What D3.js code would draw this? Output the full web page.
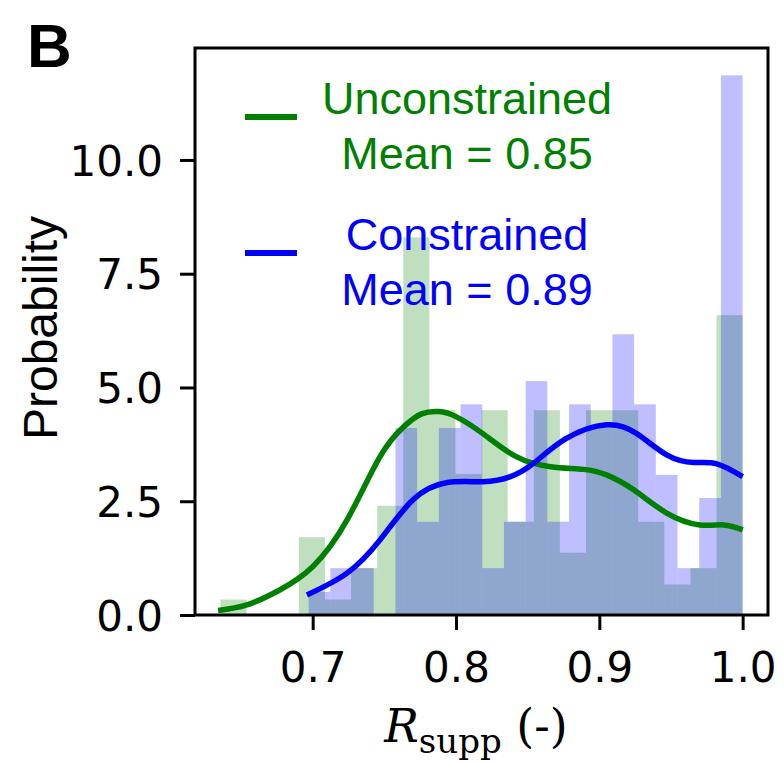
<!DOCTYPE html>
<html>
<head>
<meta charset="utf-8">
<script src="https://cdn.jsdelivr.net/npm/d3@7"></script>
<style>
  body { margin: 0; background: #fff; }
  #chart { width: 784px; height: 763px; }
</style>
</head>
<body>
<div id="chart"></div>
<script>
var margin = {top: 48, right: 16, bottom: 148, left: 195},
    width = 784 - margin.left - margin.right,
    height = 763 - margin.top - margin.bottom;

// histogram bins (density), 20 bins each
var greenRange = [0.6357, 1.0];
var greenDensity = [0.34, 0, 0, 1.71, 0.34, 1.03, 2.40, 8.30, 4.50, 3.10,
                    4.50, 2.05, 4.50, 1.37, 4.50, 4.50, 2.05, 0.67, 1.03, 6.59];
var blueRange = [0.6972, 1.0];
var blueDensity = [0.51, 1.03, 1.03, 0, 4.11, 2.05, 4.11, 4.63, 1.03, 2.05,
                   5.14, 2.05, 4.63, 4.15, 6.17, 4.63, 3.08, 1.03, 2.57, 11.86];

// kde curves
var greenKdeX = [0.634, 0.654, 0.677, 0.700, 0.724, 0.747, 0.764, 0.776, 0.788, 0.800,
                 0.819, 0.842, 0.866, 0.889, 0.905, 0.924, 0.947, 0.970, 0.987, 1.0];
var greenKdeY = [0.10, 0.22, 0.55, 1.06, 2.09, 3.48, 4.15, 4.42, 4.47, 4.36,
                 3.98, 3.48, 3.26, 3.20, 3.08, 2.75, 2.24, 1.98, 1.98, 1.87];
var blueKdeX = [0.696, 0.724, 0.747, 0.770, 0.794, 0.819, 0.838, 0.854, 0.877, 0.905,
                0.926, 0.947, 0.966, 0.982, 1.0];
var blueKdeY = [0.44, 0.92, 1.65, 2.53, 2.91, 2.93, 3.04, 3.33, 3.88, 4.18,
                3.99, 3.52, 3.35, 3.32, 3.04];

var xTicks = [0.7, 0.8, 0.9, 1.0];
var yTicks = [0, 2.5, 5, 7.5, 10];
var legendLabels = [["Unconstrained", "Mean = 0.85"], ["Constrained", "Mean = 0.89"]];
var colors = ["#008000", "#0000ff"];

var svg = d3.select("#chart").append("svg")
    .attr("width", width + margin.left + margin.right)
    .attr("height", height + margin.top + margin.bottom);

var g = svg.append("g")
    .attr("transform", "translate(" + margin.left + "," + margin.top + ")");

var x = d3.scaleLinear().domain([0.6179, 1.0177]).range([0, width]);
var y = d3.scaleLinear().domain([0, 12.46]).range([height, 0]);

function makeBins(range, vals) {
    var step = (range[1] - range[0]) / vals.length;
    return vals.map(function(v, i) {
        return {x0: range[0] + i * step, x1: range[0] + (i + 1) * step, v: v};
    });
}

function drawHist(bins, color) {
    g.append("g").selectAll("rect")
        .data(bins.filter(function(d) { return d.v > 0; }))
        .enter().append("rect")
        .attr("x", function(d) { return x(d.x0); })
        .attr("width", function(d) { return x(d.x1) - x(d.x0); })
        .attr("y", function(d) { return y(d.v); })
        .attr("height", function(d) { return y(0) - y(d.v); })
        .attr("fill", color)
        .attr("fill-opacity", 0.25);
}

drawHist(makeBins(greenRange, greenDensity), colors[0]);
drawHist(makeBins(blueRange, blueDensity), colors[1]);

var line = d3.line()
    .x(function(d) { return x(d[0]); })
    .y(function(d) { return y(d[1]); })
    .curve(d3.curveNatural);

g.append("path")
    .datum(d3.zip(greenKdeX, greenKdeY))
    .attr("d", line)
    .attr("fill", "none")
    .attr("stroke", colors[0])
    .attr("stroke-width", 5.5);

g.append("path")
    .datum(d3.zip(blueKdeX, blueKdeY))
    .attr("d", line)
    .attr("fill", "none")
    .attr("stroke", colors[1])
    .attr("stroke-width", 5.5);

// frame
g.append("rect")
    .attr("width", width)
    .attr("height", height)
    .attr("fill", "none")
    .attr("stroke", "#000")
    .attr("stroke-width", 3);

var xAxis = g.append("g")
    .attr("transform", "translate(0," + height + ")")
    .call(d3.axisBottom(x).tickValues(xTicks).tickSize(15).tickPadding(22)
        .tickFormat(d3.format(".1f")));
var yAxis = g.append("g")
    .call(d3.axisLeft(y).tickValues(yTicks).tickSize(15).tickPadding(17)
        .tickFormat(d3.format(".1f")));

[xAxis, yAxis].forEach(function(ax) {
    ax.select(".domain").remove();
    ax.selectAll(".tick line").attr("stroke", "#000").attr("stroke-width", 3);
    ax.selectAll(".tick text")
        .attr("fill", "#000")
        .style("font-family", "'DejaVu Sans'")
        .style("font-size", "42px");
});
yAxis.selectAll(".tick text").attr("dy", "0.36em");

// legend
var legend = g.append("g");
legendLabels.forEach(function(lab, i) {
    var top = 66 + i * 136;
    legend.append("line")
        .attr("x1", 50).attr("x2", 102)
        .attr("y1", top + 3).attr("y2", top + 3)
        .attr("stroke", colors[i])
        .attr("stroke-width", 6);
    lab.forEach(function(t, j) {
        legend.append("text")
            .attr("x", 272)
            .attr("y", top + j * 55)
            .attr("text-anchor", "middle")
            .attr("fill", colors[i])
            .style("font-family", "'Liberation Sans', Arial")
            .style("font-size", "45px")
            .text(t);
    });
});

// axis labels
svg.append("text")
    .attr("transform", "translate(57," + 328 + ") rotate(-90)")
    .attr("text-anchor", "middle")
    .style("font-family", "'Liberation Sans', Arial")
    .style("font-size", "48px")
    .text("Probability");

var xl = svg.append("text")
    .attr("x", 476)
    .attr("y", 742)
    .attr("text-anchor", "middle")
    .style("font-family", "'DejaVu Serif'")
    .style("font-size", "46px");
xl.append("tspan").style("font-style", "italic").text("R");
xl.append("tspan").attr("dy", 11).style("font-size", "34px").text("supp");
xl.append("tspan").attr("dy", -11).text(" (-)");

svg.append("text")
    .attr("x", 27)
    .attr("y", 67)
    .style("font-family", "'Liberation Sans', Arial")
    .style("font-weight", "bold")
    .style("font-size", "62px")
    .text("B");
</script>
</body>
</html>
